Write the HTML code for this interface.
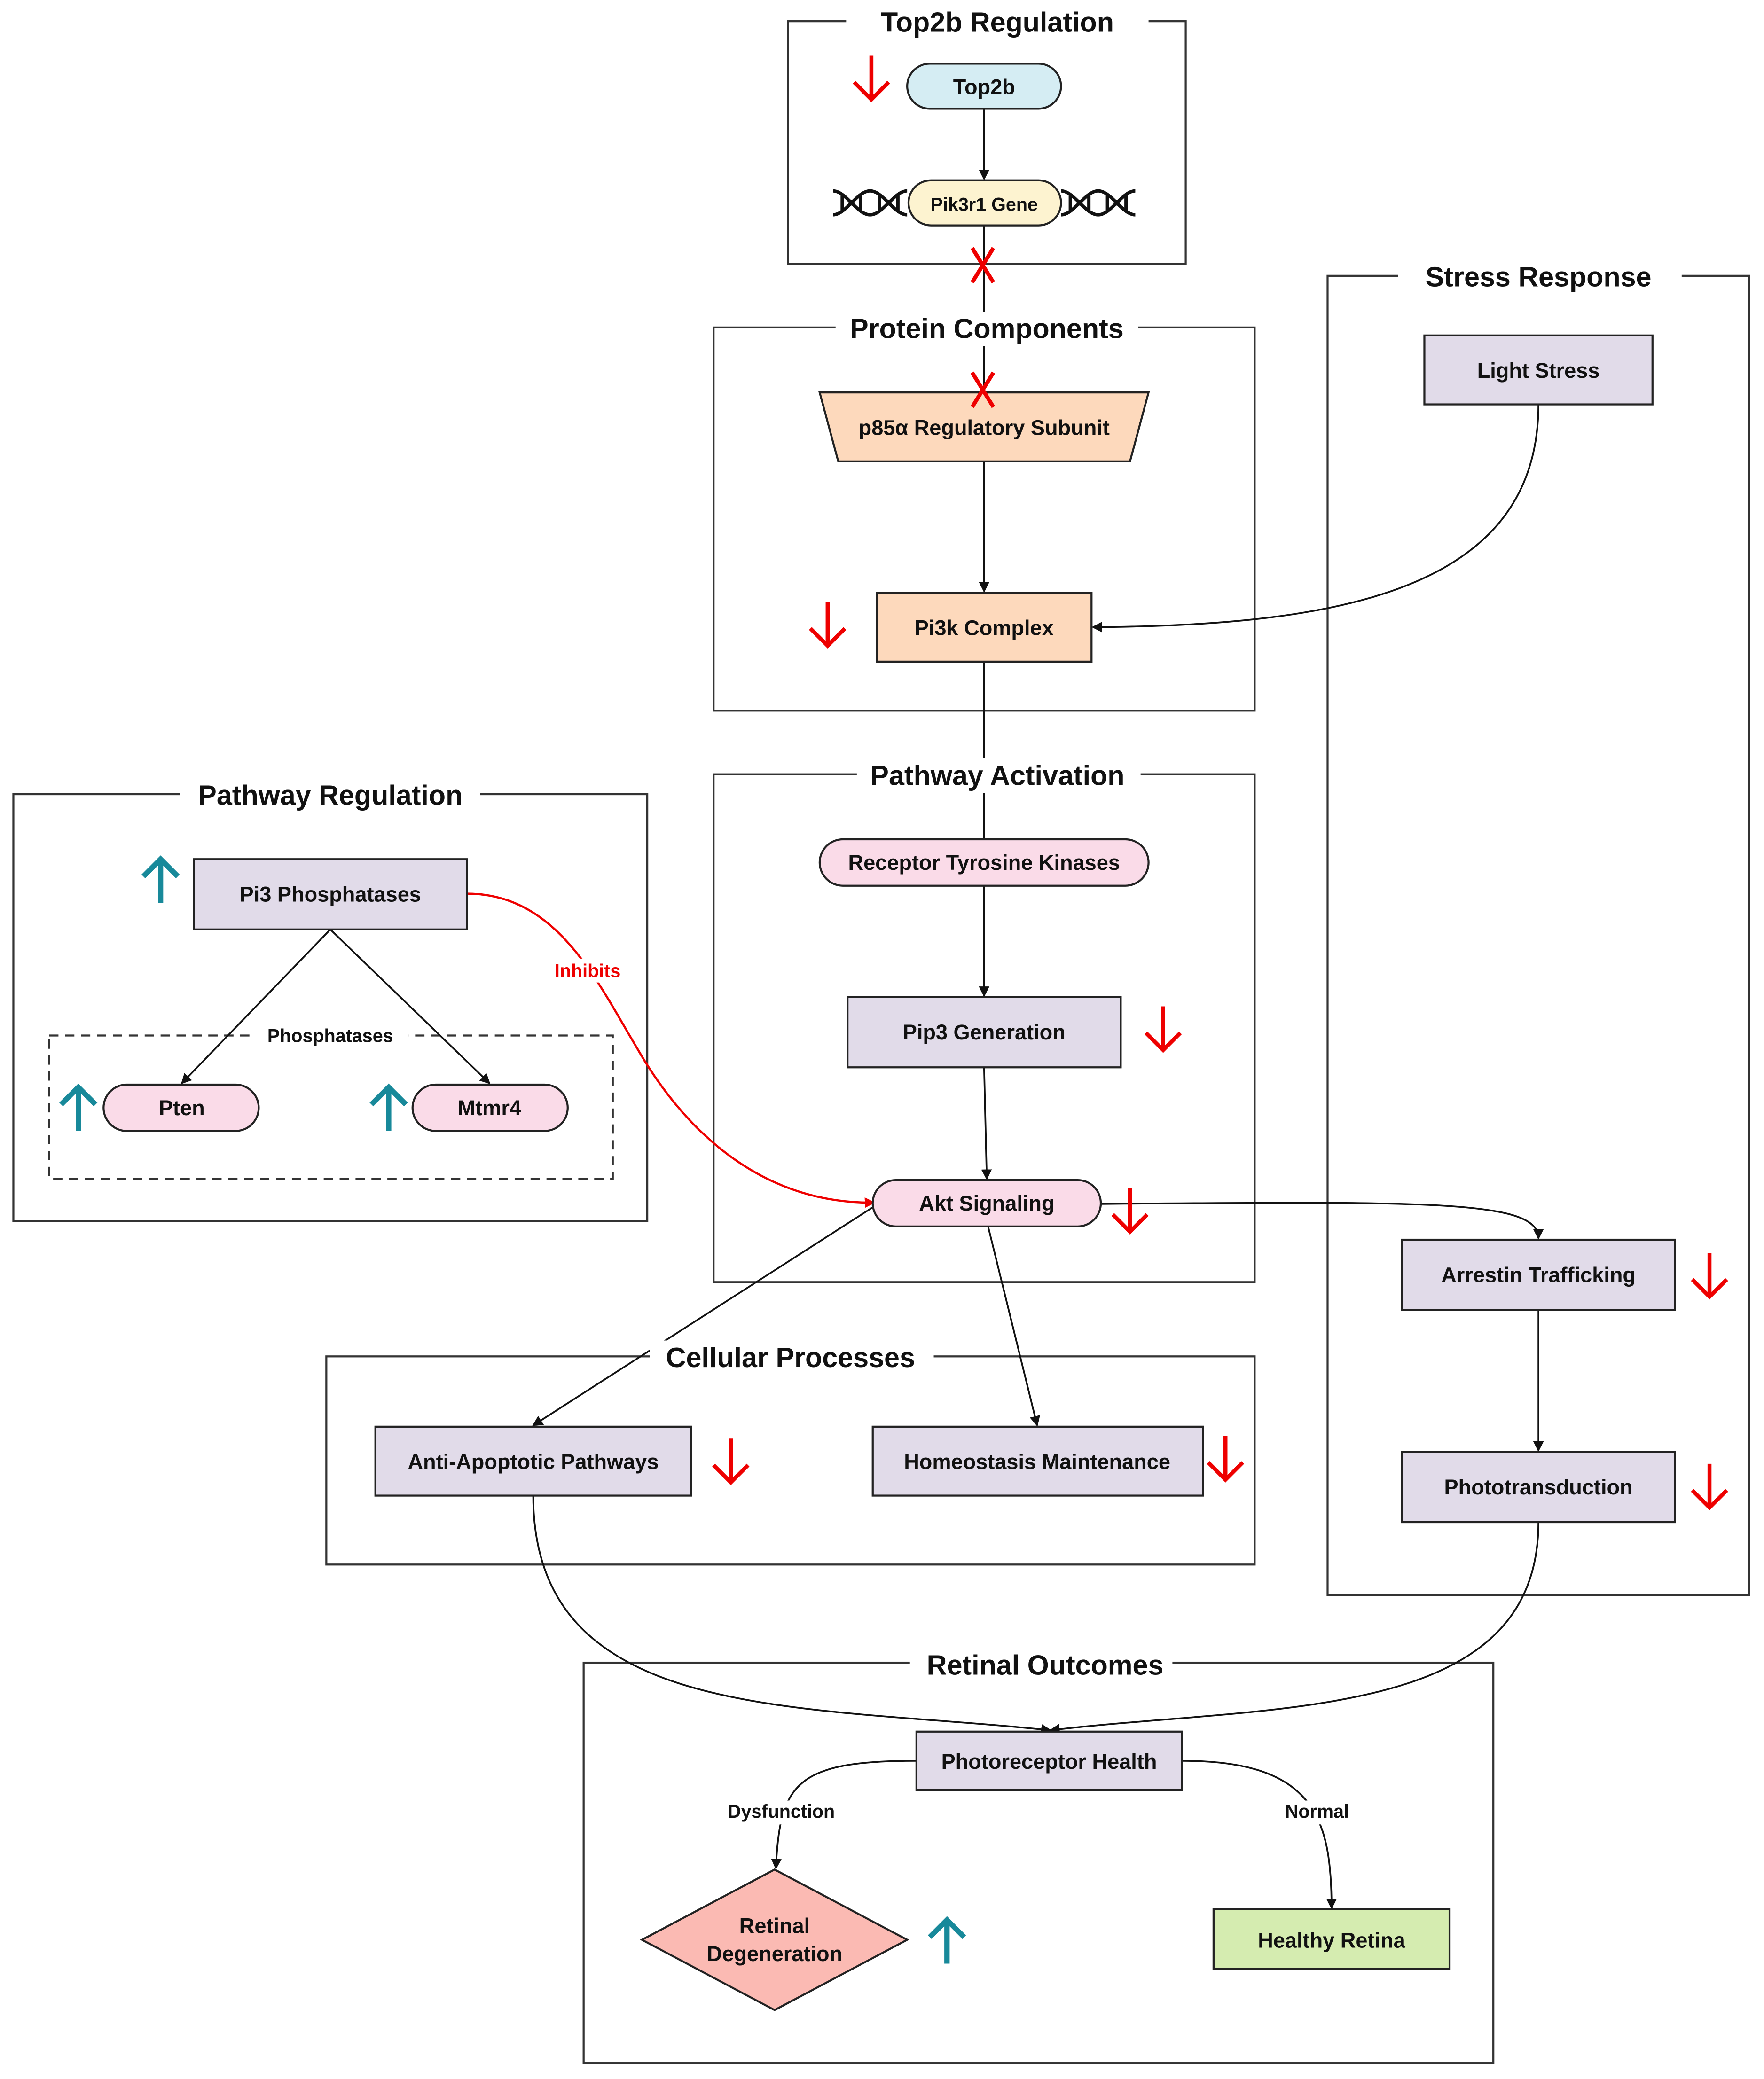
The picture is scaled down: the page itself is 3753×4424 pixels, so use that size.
<!DOCTYPE html>
<html><head><meta charset="utf-8"><style>
html,body{margin:0;padding:0;background:#fff}
svg{display:block}
text{font-family:"Liberation Sans",sans-serif;font-weight:bold;fill:#111}
</style></head><body>
<svg width="3753" height="4424" viewBox="0 0 1330 1568" xmlns="http://www.w3.org/2000/svg">
<defs>
<marker id="ah" markerWidth="8" markerHeight="8" refX="7" refY="4" orient="auto" markerUnits="userSpaceOnUse"><path d="M0,0 L8,4 L0,8 z" fill="#111"/></marker>
<marker id="ahr" markerWidth="8" markerHeight="8" refX="7" refY="4" orient="auto" markerUnits="userSpaceOnUse"><path d="M0,0 L8,4 L0,8 z" fill="#e00"/></marker>
<g id="dn"><path d="M-13,-13 L0,0 L13,-13 M0,0 L0,-33" stroke="#e00" stroke-width="3" fill="none"/></g>
<g id="up"><path d="M-13,13 L0,0 L13,13 M0,0 L0,33" stroke="#18899a" stroke-width="4" fill="none"/></g>
<g id="dna"><path d="M0,-9 C10,-9 18,9 28,9 C38,9 46,-9 56,-9 M0,9 C10,9 18,-9 28,-9 C38,-9 46,9 56,9 M7,-6 V6 M14,-2 V2 M21,-6 V6 M35,-6 V6 M42,-2 V2 M49,-6 V6" stroke="#111" stroke-width="2.5" fill="none"/></g>
</defs>
<g fill="none" stroke="#333" stroke-width="1.5">
<rect x="594" y="16" width="300" height="183"/>
<rect x="538" y="247" width="408" height="289"/>
<rect x="1001" y="208" width="318" height="995"/>
<rect x="10" y="599" width="478" height="322"/>
<rect x="538" y="584" width="408" height="383"/>
<rect x="246" y="1023" width="700" height="157"/>
<rect x="440" y="1254" width="686" height="302"/>
<rect x="37" y="781" width="425" height="108" stroke-dasharray="7,5"/>
</g>
<!-- edges -->
<g fill="none" stroke="#111" stroke-width="1.3">
<path d="M742,82 V135" marker-end="url(#ah)"/>
<path d="M742,170 V296"/>
<path d="M742,348 V446" marker-end="url(#ah)"/>
<path d="M742,499 V633"/>
<path d="M1160,305 C1160,445 1010,472 824,473" marker-end="url(#ah)"/>
<path d="M742,668 V751" marker-end="url(#ah)"/>
<path d="M742,805 L744,889" marker-end="url(#ah)"/>
<path d="M830,908 C1080,906 1160,905 1160,934" marker-end="url(#ah)"/>
<path d="M1160,988 V1094" marker-end="url(#ah)"/>
<path d="M662,908 L402,1075" marker-end="url(#ah)"/>
<path d="M745,925 L782,1075" marker-end="url(#ah)"/>
<path d="M249,701 L137,817" marker-end="url(#ah)"/>
<path d="M249,701 L369,817" marker-end="url(#ah)"/>
<path d="M402,1128 C402,1300 600,1285 792,1305" marker-end="url(#ah)"/>
<path d="M1160,1148 C1160,1300 960,1285 792,1305" marker-end="url(#ah)"/>
<path d="M691,1328 C600,1328 588,1345 585,1409" marker-end="url(#ah)"/>
<path d="M891,1328 C990,1328 1004,1370 1004,1439" marker-end="url(#ah)"/>
</g>
<path d="M352,674 C420,674 450,740 480,790 C520,860 580,908 659,907" fill="none" stroke="#e00" stroke-width="1.6" marker-end="url(#ahr)"/>
<g fill="#fff">
<rect x="638" y="4" width="228" height="26"/>
<rect x="630" y="235" width="228" height="26"/>
<rect x="1054" y="196" width="214" height="26"/>
<rect x="136" y="587" width="226" height="26"/>
<rect x="646" y="572" width="214" height="26"/>
<rect x="490" y="1011" width="214" height="26"/>
<rect x="686" y="1242" width="198" height="26"/>
<rect x="190" y="772" width="118" height="18"/>
</g>
<g font-size="21" text-anchor="middle">
<text x="752" y="24">Top2b Regulation</text>
<text x="744" y="255">Protein Components</text>
<text x="1160" y="216">Stress Response</text>
<text x="249" y="607">Pathway Regulation</text>
<text x="752" y="592">Pathway Activation</text>
<text x="596" y="1031">Cellular Processes</text>
<text x="788" y="1263">Retinal Outcomes</text>
</g>
<text x="249" y="786" font-size="14" text-anchor="middle">Phosphatases</text>
<rect x="414" y="723" width="58" height="18" fill="#fff"/>
<text x="443" y="737" font-size="14" text-anchor="middle" style="fill:#e00">Inhibits</text>
<rect x="540" y="1358" width="98" height="18" fill="#fff"/>
<text x="589" y="1371" font-size="14" text-anchor="middle">Dysfunction</text>
<rect x="962" y="1358" width="62" height="18" fill="#fff"/>
<text x="993" y="1371" font-size="14" text-anchor="middle">Normal</text>
<!-- nodes -->
<g stroke="#222" stroke-width="1.5">
<rect x="684" y="48" width="116" height="34" rx="17" fill="#d5edf3"/>
<rect x="685" y="136" width="115" height="34" rx="17" fill="#fdf3d0"/>
<polygon points="618,296 866,296 852,348 632,348" fill="#fdd9bc"/>
<rect x="661" y="447" width="162" height="52" fill="#fdd9bc"/>
<rect x="1074" y="253" width="172" height="52" fill="#e1dbe9"/>
<rect x="618" y="633" width="248" height="35" rx="17.5" fill="#fadbe8"/>
<rect x="639" y="752" width="206" height="53" fill="#e1dbe9"/>
<rect x="658" y="890" width="172" height="35" rx="17.5" fill="#fadbe8"/>
<rect x="1057" y="935" width="206" height="53" fill="#e1dbe9"/>
<rect x="1057" y="1095" width="206" height="53" fill="#e1dbe9"/>
<rect x="146" y="648" width="206" height="53" fill="#e1dbe9"/>
<rect x="78" y="818" width="117" height="35" rx="17.5" fill="#fadbe8"/>
<rect x="311" y="818" width="117" height="35" rx="17.5" fill="#fadbe8"/>
<rect x="283" y="1076" width="238" height="52" fill="#e1dbe9"/>
<rect x="658" y="1076" width="249" height="52" fill="#e1dbe9"/>
<rect x="691" y="1306" width="200" height="44" fill="#e1dbe9"/>
<polygon points="484,1463 584,1410 684,1463 584,1516" fill="#fbbab3"/>
<rect x="915" y="1440" width="178" height="45" fill="#d5ecb0"/>
</g>
<use href="#dna" x="628" y="153"/>
<use href="#dna" x="800" y="153"/>
<g font-size="16" text-anchor="middle">
<text x="742" y="71">Top2b</text>
<text x="742" y="159" font-size="14">Pik3r1 Gene</text>
<text x="742" y="328">p85α Regulatory Subunit</text>
<text x="742" y="479">Pi3k Complex</text>
<text x="1160" y="285">Light Stress</text>
<text x="742" y="656">Receptor Tyrosine Kinases</text>
<text x="742" y="784">Pip3 Generation</text>
<text x="744" y="913">Akt Signaling</text>
<text x="1160" y="967">Arrestin Trafficking</text>
<text x="1160" y="1127">Phototransduction</text>
<text x="249" y="680">Pi3 Phosphatases</text>
<text x="137" y="841">Pten</text>
<text x="369" y="841">Mtmr4</text>
<text x="402" y="1108">Anti-Apoptotic Pathways</text>
<text x="782" y="1108">Homeostasis Maintenance</text>
<text x="791" y="1334">Photoreceptor Health</text>
<text x="584" y="1458">Retinal</text>
<text x="584" y="1479">Degeneration</text>
<text x="1004" y="1469">Healthy Retina</text>
</g>
<g stroke="#e00" stroke-width="3">
<path d="M733,187 L749,213 M749,187 L733,213"/>
<path d="M733,281 L749,307 M749,281 L733,307"/>
</g>
<use href="#dn" x="657" y="75"/>
<use href="#dn" x="624" y="487"/>
<use href="#dn" x="877" y="792"/>
<use href="#dn" x="852" y="929"/>
<use href="#dn" x="551" y="1118"/>
<use href="#dn" x="924" y="1116"/>
<use href="#dn" x="1289" y="978"/>
<use href="#dn" x="1289" y="1137"/>
<use href="#up" x="121" y="648"/>
<use href="#up" x="59" y="820"/>
<use href="#up" x="293" y="820"/>
<use href="#up" x="714" y="1448"/>
</svg>
</body></html>
